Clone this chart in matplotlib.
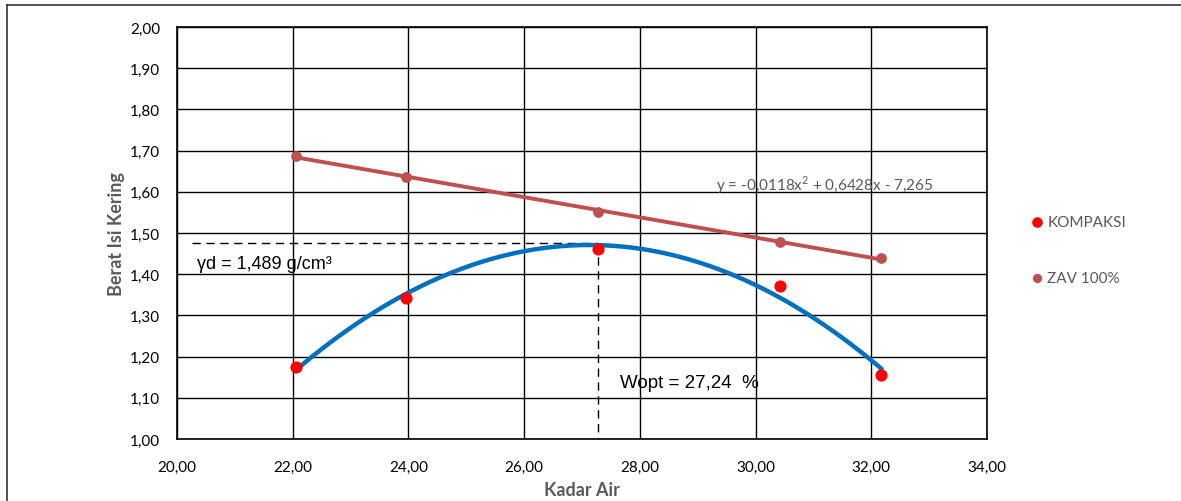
import matplotlib.pyplot as plt
import numpy as np
from matplotlib.lines import Line2D
from matplotlib.ticker import FuncFormatter

# data
kadar_air = [22.05, 23.96, 27.28, 30.42, 32.17]
berat_kompaksi = [1.175, 1.342, 1.461, 1.371, 1.155]
berat_zav = [1.687, 1.636, 1.551, 1.478, 1.439]

w_opt = 27.28
gamma_d = 1.476
dash_start = 20.26

label_gamma = "γd = 1,489 g/cm³"
label_wopt = "Wopt = 27,24  %"
label_eq = "y = -0,0118x$^{2}$ + 0,6428x - 7,265"

x_ticks = np.arange(20, 34.01, 2)
y_ticks = np.arange(1.0, 2.001, 0.1)

plt.rcParams["font.family"] = ["Lato", "DejaVu Sans"]
plt.rcParams["mathtext.fontset"] = "custom"
plt.rcParams["mathtext.rm"] = "Lato"

fig = plt.figure(figsize=(11.81, 5.02), dpi=100)
ax = fig.add_axes([177 / 1181, 1 - 440 / 502, 810 / 1181, 412 / 502])

comma = FuncFormatter(lambda v, _: f"{v:.2f}".replace(".", ","))

# fitted curves (trendlines)
x = np.asarray(kadar_air)
poly2 = np.polyfit(x, berat_kompaksi, 2)
xs = np.linspace(x[0], x[-1], 200)
ax.plot(xs, np.polyval(poly2, xs), color="#0070C0", lw=3.2, zorder=3)

poly1 = np.polyfit(x, berat_zav, 1)
ax.plot(x, np.polyval(poly1, x), color="#C0504D", lw=2.8, zorder=3)

ax.scatter(kadar_air, berat_zav, s=45, color="#C0504D", zorder=4, label="ZAV 100%")
ax.scatter(kadar_air, berat_kompaksi, s=60, color="#FF0000", zorder=5, label="KOMPAKSI")

# optimum guide lines
ax.plot([dash_start, w_opt], [gamma_d, gamma_d], color="black", lw=1, ls=(0, (6, 4)), zorder=2)
ax.plot([w_opt, w_opt], [gamma_d, 1.0], color="black", lw=1, ls=(0, (6, 4)), zorder=2)

ax.text(20.35, 1.425, label_gamma, fontsize=13, family="Liberation Sans", va="center")
ax.text(27.66, 1.136, label_wopt, fontsize=13.5, family="Liberation Sans", va="center")
ax.text(29.32, 1.619, label_eq, fontsize=11, color="#595959", va="center")

ax.set_xlim(20, 34)
ax.set_ylim(1.0, 2.0)
ax.set_xticks(x_ticks)
ax.set_yticks(y_ticks)
ax.xaxis.set_major_formatter(comma)
ax.yaxis.set_major_formatter(comma)
ax.tick_params(length=0, labelsize=11, pad=12)
ax.tick_params(axis="x", pad=15)
ax.grid(True, color="black", lw=1)
ax.set_axisbelow(True)
for spine in ax.spines.values():
    spine.set_color("black")
    spine.set_linewidth(1.2)

ax.set_xlabel("Kadar Air", fontsize=13, fontweight="bold", color="#595959", labelpad=5)
ax.set_ylabel("Berat Isi Kering", fontsize=13, fontweight="bold", color="#595959", labelpad=4)

handles, labels = ax.get_legend_handles_labels()
fig.legend(handles[::-1], labels[::-1], loc="center left", bbox_to_anchor=(1016 / 1181, 1 - 251 / 502),
           frameon=False, fontsize=11, labelcolor="#595959", handletextpad=-0.35, labelspacing=2.8,
           markerscale=0.85, borderaxespad=0)

# outer chart border
fig.add_artist(Line2D([7 / 1181, 7 / 1181], [0, 1 - 6 / 502], color="#333333", lw=1.2))
fig.add_artist(Line2D([7 / 1181, 1.0], [1 - 6 / 502, 1 - 6 / 502], color="#333333", lw=1.2))

fig.savefig("out.png", dpi=100)
plt.close(fig)
